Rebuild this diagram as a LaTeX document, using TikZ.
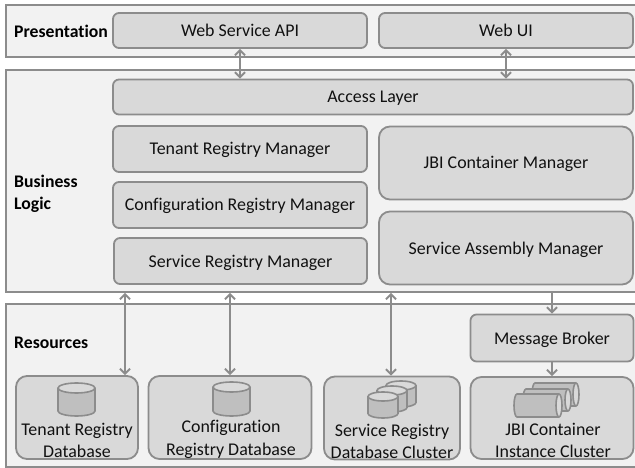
\documentclass[tikz,border=0pt]{standalone}
\usepackage{fontspec}
\setmainfont[Ligatures=NoCommon]{Carlito}
\usetikzlibrary{arrows.meta}
\definecolor{edge}{HTML}{8C8C8C}
\definecolor{layerfill}{HTML}{F2F2F2}
\definecolor{boxfill}{HTML}{D9D9D9}
\definecolor{cylfill}{HTML}{BFBFBF}
\definecolor{ink}{HTML}{111111}
\tikzset{
  x=1pt,y=-1pt,
  layer/.style={draw=edge,fill=layerfill,line width=1.8pt,inner sep=0pt},
  box/.style={draw=edge,fill=boxfill,line width=1.8pt,rounded corners=6pt,inner sep=0pt,text=ink,font=\fontsize{17.9}{22}\selectfont,text height=16pt,text depth=4pt},
  bigbox/.style={box,rounded corners=11pt},
  txt/.style={inner sep=0pt,text=ink,font=\fontsize{17.9}{22.5}\selectfont,align=center},
  head/.style={inner sep=0pt,text=black,font=\fontsize{17.7}{22}\selectfont\bfseries,align=left,anchor=west},
  conn/.style={draw=edge,line width=2pt,{Straight Barb[length=5pt,width=10pt]}-{Straight Barb[length=5pt,width=10pt]}},
  conn1/.style={draw=edge,line width=2pt,-{Straight Barb[length=5pt,width=10pt]}},
  cyl/.style={draw=edge,line width=1.6pt},
}
\newcommand{\vcyl}[5]{% cx, top, rx, ry, bottom
  \pgfmathsetmacro{\cytop}{#2+#4}\pgfmathsetmacro{\cybot}{#5-#4}
  \pgfmathsetmacro{\cxl}{#1-#3}\pgfmathsetmacro{\cxr}{#1+#3}
  \path[cyl,fill=cylfill] (#1,\cybot) circle[x radius=#3pt,y radius=#4pt];
  \fill[cylfill] (\cxl,\cytop) rectangle (\cxr,\cybot);
  \draw[cyl] (\cxl,\cytop) -- (\cxl,\cybot) (\cxr,\cytop) -- (\cxr,\cybot);
  \path[cyl,fill=boxfill] (#1,\cytop) circle[x radius=#3pt,y radius=#4pt];
}
\newcommand{\hcyl}[4]{% left, right, top, bottom
  \pgfmathsetmacro{\cxa}{#1+3}\pgfmathsetmacro{\cxb}{#2-3}
  \pgfmathsetmacro{\cym}{(#3+#4)/2}\pgfmathsetmacro{\cyr}{(#4-#3)/2}
  \path[cyl,fill=cylfill] (\cxa,\cym) circle[x radius=3pt,y radius=\cyr pt];
  \fill[cylfill] (\cxa,#3) rectangle (\cxb,#4);
  \draw[cyl] (\cxa,#3) -- (\cxb,#3) (\cxa,#4) -- (\cxb,#4);
  \path[cyl,fill=boxfill] (\cxb,\cym) circle[x radius=3pt,y radius=\cyr pt];
}
\begin{document}
\begin{tikzpicture}
\useasboundingbox (0,0) rectangle (635,468);
\clip (0,0) rectangle (635,468);
% layers
\node[layer,minimum width=634pt,minimum height=52pt] (pres) at (323,31) {};
\node[layer,minimum width=634pt,minimum height=222pt] (biz) at (323,181) {};
\node[layer,minimum width=634pt,minimum height=163pt] (res) at (323,385.5) {};
\node[head] (presT) at (14,31.5) {Presentation};
\node[head] (bizT) at (14,193.5) {Business\\Logic};
\node[head] (resT) at (14,343) {Resources};
% boxes
\node[box,minimum width=254pt,minimum height=35pt] (api) at (240,30.5) {Web Service API};
\node[box,minimum width=254pt,minimum height=35pt] (ui) at (506,30.5) {Web UI};
\node[box,minimum width=520pt,minimum height=35pt] (access) at (373,97) {Access Layer};
\node[box,minimum width=254pt,minimum height=46pt] (tenant) at (240,149) {Tenant Registry Manager};
\node[box,minimum width=254pt,minimum height=46pt] (config) at (240,205) {Configuration Registry Manager};
\node[box,minimum width=253pt,minimum height=46pt] (service) at (240.5,261) {Service Registry Manager};
\node[bigbox,minimum width=254pt,minimum height=73pt] (jbi) at (506,163) {JBI Container Manager};
\node[bigbox,minimum width=254pt,minimum height=73pt] (assembly) at (506,248) {Service Assembly Manager};
\node[box,minimum width=163pt,minimum height=47pt] (broker) at (552,338) {Message Broker};
% resource boxes
\node[bigbox,minimum width=122pt,minimum height=83pt] (tdb) at (77,417.5) {};
\node[bigbox,minimum width=163pt,minimum height=83pt] (cdb) at (230,417.5) {};
\node[bigbox,minimum width=136pt,minimum height=83pt] (sdb) at (392,418) {};
\node[bigbox,minimum width=163pt,minimum height=82pt] (jc) at (552,418) {};
\node[txt] (tdbT) at (77,440.5) {Tenant Registry\\Database};
\node[txt] (cdbT) at (231,439.5) {Configuration\\Registry Database};
\node[txt] (sdbT) at (392,441.5) {Service Registry\\Database Cluster};
\node[txt] (jcT) at (553,440.5) {JBI Container\\Instance Cluster};
% cylinders
\vcyl{76.5}{383}{18.5}{5}{416}
\vcyl{231.5}{382}{18.5}{5}{416}
\vcyl{401}{381}{15}{4.5}{407}
\vcyl{392}{386}{15}{4.5}{412}
\vcyl{383}{392}{15}{4.5}{418}
\hcyl{532}{579}{383}{406}
\hcyl{523}{571}{389}{411}
\hcyl{514}{562}{394}{417}
% connectors
\draw[conn] (api.south) -- (api.south |- access.north);
\draw[conn] (ui.south) -- (ui.south |- access.north);
\draw[conn] ([xshift=48pt]tdb.north) -- ([xshift=48pt]tdb.north |- biz.south);
\draw[conn] (cdb.north) -- (cdb.north |- biz.south);
\draw[conn] ([xshift=-1pt]sdb.north) -- ([xshift=-1pt]sdb.north |- biz.south);
\draw[conn1] (broker.north |- biz.south) -- (broker.north);
\draw[conn1] (broker.south) -- (jc.north);
\end{tikzpicture}
\end{document}
